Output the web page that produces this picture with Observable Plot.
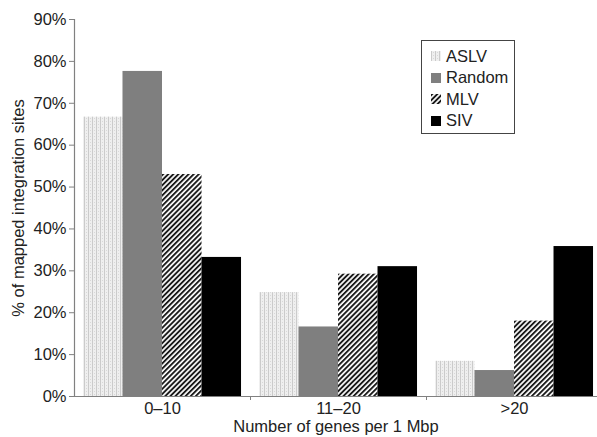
<!DOCTYPE html>
<html>
<head>
<meta charset="utf-8">
<script src="https://cdn.jsdelivr.net/npm/d3@7"></script>
<script src="https://cdn.jsdelivr.net/npm/@observablehq/plot@0.6"></script>
<style>
  html, body { margin: 0; padding: 0; background: #fff; }
  #wrap { position: relative; width: 597px; height: 437px; font-family: "Liberation Sans", Arial, sans-serif; }
  #legend { position: absolute; left: 421px; top: 40px; width: 92px; height: 92px; border: 1px solid #444; background: #fff; box-sizing: content-box; font-size: 16.5px; color: #222; }
  .row { position: absolute; left: 9px; height: 20px; display: flex; align-items: center; }
  .row svg { margin-right: 5px; }
</style>
</head>
<body>
<div id="wrap"><div id="chart"></div><div id="legend"></div></div>
<script>
const groups = ["0–10", "11–20", ">20"];
const series = ["ASLV", "Random", "MLV", "SIV"];
const aslv   = [66.7, 24.8, 8.4];
const random = [77.6, 16.6, 6.2];
const mlv    = [53.0, 29.2, 18.0];
const siv    = [33.2, 31.0, 35.8];
const yTicks = [0, 10, 20, 30, 40, 50, 60, 70, 80, 90];
const fills  = ["url(#pat-aslv)", "#7f7f7f", "url(#pat-mlv)", "#000000"];

const valuesBySeries = [aslv, random, mlv, siv];
const data = groups.flatMap((g, gi) => series.map((s, si) => ({g, gi, s, si, v: valuesBySeries[si][gi]})));

const pad = 0.051, bw = (1 - 2 * pad) / 4;
const FS = 16.5;

function defsMark() {
  const defs = d3.create("svg:defs");
  const a = defs.append("pattern").attr("id", "pat-aslv").attr("patternUnits", "userSpaceOnUse")
    .attr("width", 4).attr("height", 3);
  a.append("rect").attr("width", 4).attr("height", 3).attr("fill", "#efefef");
  a.append("rect").attr("x", 0).attr("width", 1).attr("height", 3).attr("fill", "#cbcbcb");
  a.append("rect").attr("x", 2).attr("y", 1).attr("width", 1).attr("height", 1).attr("fill", "#d8d8d8");
  const m = defs.append("pattern").attr("id", "pat-mlv").attr("patternUnits", "userSpaceOnUse")
    .attr("width", 3.6).attr("height", 10).attr("patternTransform", "rotate(45)");
  m.append("rect").attr("width", 3.6).attr("height", 10).attr("fill", "#ffffff");
  m.append("rect").attr("width", 1.9).attr("height", 10).attr("fill", "#1a1a1a");
  return defs.node();
}

const chart = Plot.plot({
  width: 597,
  height: 437,
  marginLeft: 74,
  marginRight: 0,
  marginTop: 19,
  marginBottom: 41,
  style: {fontFamily: "Liberation Sans, Arial, sans-serif", fontSize: FS + "px", color: "#222", background: "#fff"},
  x: {type: "linear", domain: [0, 3], range: [74, 602]},
  y: {domain: [0, 90]},
  color: {type: "ordinal", domain: series, range: fills},
  marks: [
    defsMark,
    Plot.rectY(data, {x1: d => d.gi + pad + d.si * bw, x2: d => d.gi + pad + (d.si + 1) * bw, y: "v", fill: "s"}),
    Plot.ruleY([0], {stroke: "#808080", strokeWidth: 1.2}),
    Plot.ruleX([0], {stroke: "#808080", strokeWidth: 1.2}),
    Plot.axisY({ticks: yTicks, tickFormat: d => d + "%", tickSize: 5, tickPadding: 3, stroke: "#808080",
      label: "% of mapped integration sites", labelAnchor: "center", labelOffset: 62, labelArrow: false}),
    Plot.axisX({ticks: [1, 2], tickSize: 4, tickFormat: () => "", stroke: "#808080", label: null}),
    Plot.axisX({ticks: [0.5, 1.5, 2.5], tickSize: 0, tickPadding: 6, tickFormat: d => groups[Math.floor(d)],
      label: "Number of genes per 1 Mbp", labelAnchor: "center", labelOffset: 35, labelArrow: false})
  ]
});
document.getElementById("chart").appendChild(chart);

const legend = document.getElementById("legend");
series.forEach((s, i) => {
  const row = document.createElement("div");
  row.className = "row";
  row.style.top = (5 + i * 21.5) + "px";
  row.innerHTML = `<svg width="10" height="10"><rect width="10" height="10" fill="${fills[i]}"></rect></svg><span>${s}</span>`;
  legend.appendChild(row);
});
</script>
</body>
</html>
